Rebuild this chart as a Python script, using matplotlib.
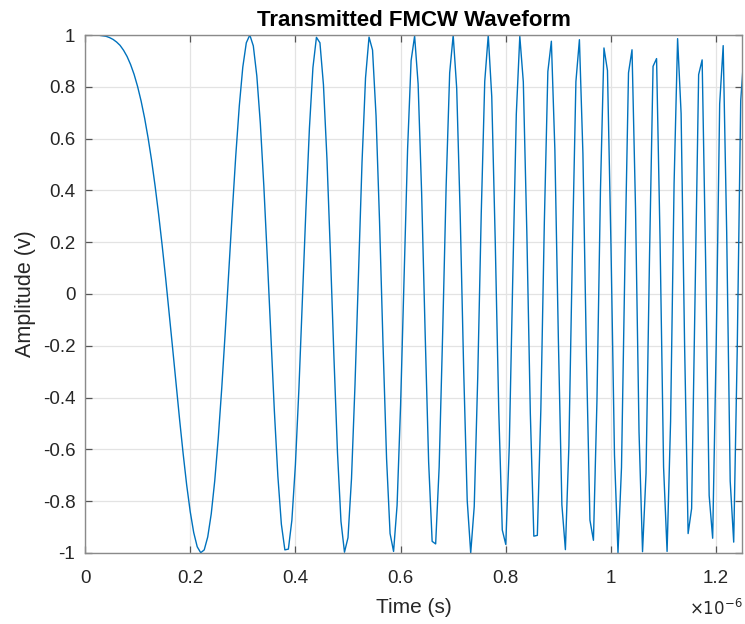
import numpy as np
import matplotlib
matplotlib.use("Agg")
import matplotlib.pyplot as plt
from matplotlib.ticker import FuncFormatter

# Sampled transmitted waveform (real part), sample rate 150 MHz
sample_rate = 150e6
amplitude = [
    1.000, 1.000, 1.000, 1.000, .999, .997, .995, .990, .983, .973, .960, .941, .917, .886, .848, .801,
    .745, .679, .602, .515, .416, .307, .188, .061, -.073, -.211, -.351, -.488, -.618, -.738, -.840, -.921,
    -.976, -.999, -.988, -.938, -.849, -.721, -.557, -.363, -.145, .085, .317, .535, .726, .876, .970, 1.000,
    .958, .842, .659, .417, .136, -.162, -.451, -.703, -.889, -.988, -.985, -.873, -.660, -.367, -.025, .326,
    .640, .874, .991, .970, .808, .522, .152, -.247, -.612, -.878, -.997, -.941, -.713, -.350, .085, .508,
    .834, .992, .942, .688, .279, -.199, -.635, -.925, -.994, -.816, -.430, .072, .560, .901, .996, .811,
    .390, -.149, -.649, -.955, -.965, -.668, -.151, .420, .854, .999, .795, .306, -.298, -.797, -1.000, -.821,
    -.322, .309, .821, .999, .762, .200, -.452, -.911, -.967, -.586, .068, .694, .995, .819, .240, -.461,
    -.935, -.932, -.446, .279, .859, .976, .556, -.177, -.814, -.987, -.586, .164, .820, .982, .541, -.240,
    -.873, -.951, -.412, .400, .950, .863, .186, -.622, -.999, -.670, .141, .854, .943, .331, -.533, -.995,
    -.692, .151, .879, .909, .206, -.668, -.994, -.492, .427, .986, .697, -.201, -.925, -.828, .014, .847,
    .904, .122, -.778, -.943, -.205, .734, .959, .238, -.722, -.958, -.221, .746, .942,
]
x_ticks_us = [0, 0.2, 0.4, 0.6, 0.8, 1.0, 1.2]
y_ticks = [-1, -0.8, -0.6, -0.4, -0.2, 0, 0.2, 0.4, 0.6, 0.8, 1]

time_s = np.arange(len(amplitude)) / sample_rate

plt.rcParams['font.family'] = ['Liberation Sans', 'DejaVu Sans']

fig = plt.figure(figsize=(7.45, 6.24), dpi=100)
ax = fig.add_axes([0.1141, 0.1138, 0.8825, 0.8301])

ax.plot(time_s, amplitude, color='#0072BD', linewidth=1.0)

ax.set_xlim(0, 1.25e-6)
ax.set_ylim(-1, 1)
ax.set_xticks([v * 1e-6 for v in x_ticks_us])
ax.set_yticks(y_ticks)
ax.xaxis.set_major_formatter(FuncFormatter(lambda v, p: f"{v * 1e6:.10g}"))
ax.yaxis.set_major_formatter(FuncFormatter(lambda v, p: f"{v:.10g}"))

ax.grid(True, color='#e3e3e3', linewidth=0.9)
ax.set_axisbelow(True)
for s in ax.spines.values():
    s.set_color('#8a8a8a')
    s.set_linewidth(1.0)
ax.tick_params(direction='in', length=5, width=0.9, color='#555555',
               top=True, right=True, labelsize=13.5, labelcolor='#262626')
ax.tick_params(axis='x', pad=12)
ax.tick_params(axis='y', pad=7)

ax.set_title('Transmitted FMCW Waveform', fontsize=16, fontweight='bold', pad=6.5)
ax.set_xlabel('Time (s)', fontsize=15, color='#262626', labelpad=8)
ax.set_ylabel('Amplitude (v)', fontsize=15.5, color='#262626', labelpad=5)

ax.text(1.0, -0.106, r'$\times10^{-6}$', transform=ax.transAxes, ha='right', va='center',
        fontsize=12, color='#262626', math_fontfamily='dejavusans')

fig.savefig("out.png", dpi=100)
